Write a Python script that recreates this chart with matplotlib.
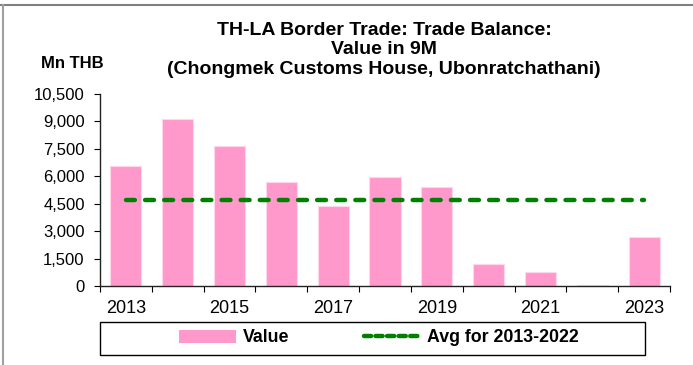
import numpy as np
import matplotlib.pyplot as plt
from matplotlib.lines import Line2D
from matplotlib.patches import Patch, Rectangle
from matplotlib.ticker import FuncFormatter

plt.rcParams['font.family'] = ['Liberation Sans', 'DejaVu Sans']

# Trade balance, value in first 9 months (Mn THB)
years = [2013, 2014, 2015, 2016, 2017, 2018, 2019, 2020, 2021, 2022, 2023]
values = [6560, 9130, 7675, 5670, 4390, 5945, 5395, 1185, 785, 50, 2700]
avg_2013_2022 = 4680

bar_color = '#FF99CC'
line_color = '#008000'

fig = plt.figure(figsize=(6.93, 3.65), dpi=100)
ax = fig.add_axes([100 / 693, 1 - 286 / 365, 570 / 693, 192 / 365])

x = np.arange(len(years))
ax.bar(x, values, width=0.6, color=bar_color, edgecolor='#FFD6EA', linewidth=0.8, zorder=2)
ax.plot(x, [avg_2013_2022] * len(years), color=line_color, lw=3.2,
        dashes=(2.0, 2.3), dash_capstyle='round', zorder=3)

ax.set_xlim(-0.5, len(years) - 0.5)
ax.set_ylim(0, 10500)
ax.set_yticks(np.arange(0, 10501, 1500))
ax.yaxis.set_major_formatter(FuncFormatter(lambda v, p: f'{int(v):,}'))

# category ticks sit between bars, labels every other year
ax.set_xticks(np.arange(-0.5, len(years), 1.0))
ax.set_xticklabels([])
ax.set_xticks(x[::2], minor=True)
ax.set_xticklabels([str(y) for y in years[::2]], minor=True)
ax.tick_params(axis='x', which='minor', length=0, pad=10, labelsize=13)
ax.tick_params(axis='x', which='major', length=4, direction='out')
ax.tick_params(axis='y', length=4, direction='out', labelsize=12, pad=7)

for side in ['top', 'right']:
    ax.spines[side].set_visible(False)
for side in ['left', 'bottom']:
    ax.spines[side].set_color('#222222')
    ax.spines[side].set_linewidth(1.0)

fig.text(384 / 693, 1 - 50 / 365,
         'TH-LA Border Trade: Trade Balance:\nValue in 9M\n(Chongmek Customs House, Ubonratchathani)',
         ha='center', va='center', fontsize=14, fontweight='bold', linespacing=1.17)
fig.text(72 / 693, 1 - 63 / 365, 'Mn THB', ha='center', va='center',
         fontsize=12, fontweight='bold')

# legend box
fig.patches.append(Rectangle((100 / 693, 1 - 355 / 365), 545 / 693, 33 / 365,
                             transform=fig.transFigure, fill=False,
                             edgecolor='black', linewidth=1.0))
handles = [Patch(facecolor=bar_color, edgecolor='none'),
           Line2D([0], [0], color=line_color, lw=3.2, dashes=(1.6, 1.0),
                  dash_capstyle='round')]
fig.legend(handles, ['Value', 'Avg for 2013-2022'], loc='center',
           bbox_to_anchor=(379 / 693, 1 - 338 / 365), ncol=2, frameon=False,
           prop={'weight': 'bold', 'size': 12.8}, handlelength=3.2,
           handleheight=0.7, handletextpad=0.35, columnspacing=4.2)

# outer border
fig.add_artist(Line2D([0, 1], [1 - 5 / 365] * 2, color='#808080', lw=1.5,
                      transform=fig.transFigure))
fig.add_artist(Line2D([3 / 693] * 2, [0, 1 - 5 / 365], color='#A0A0A0', lw=1.5,
                      transform=fig.transFigure))

fig.savefig('out.png', dpi=100)
